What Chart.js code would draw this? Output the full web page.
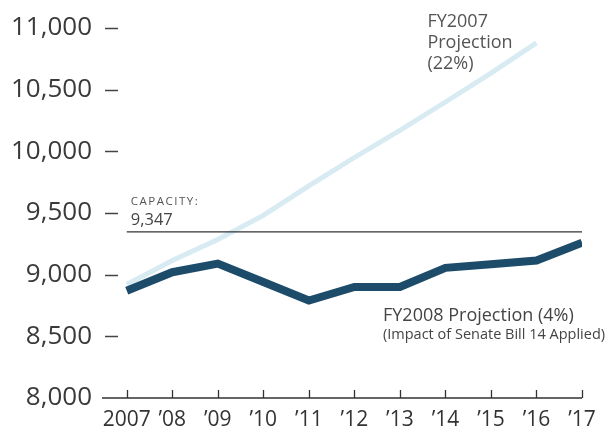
<!DOCTYPE html>
<html>
<head>
<meta charset="utf-8">
<script src="https://cdn.jsdelivr.net/npm/chart.js@4"></script>
<style>
  html, body { margin: 0; padding: 0; background: #fff; }
  #wrap { width: 611px; height: 426px; }
</style>
</head>
<body>
<div id="wrap"><canvas id="enrollChart" width="611" height="426"></canvas></div>
<script>
// enrollment projections vs. capacity
const years = [2007, 2008, 2009, 2010, 2011, 2012, 2013, 2014, 2015, 2016, 2017];
const yearLabels = ['2007', '\u201908', '\u201909', '\u201910', '\u201911', '\u201912', '\u201913', '\u201914', '\u201915', '\u201916', '\u201917'];
const fy2008 = [8870, 9020, 9090, 8940, 8790, 8900, 8900, 9055, 9085, 9115, 9260];
const fy2007 = [8920, 9115, 9285, 9480, 9720, 9950, 10170, 10400, 10635, 10880, null];
const capacity = 9347;
const yTicks = [8000, 8500, 9000, 9500, 10000, 10500, 11000];

const FONT = '"Open Sans", "DejaVu Sans", sans-serif';

const toPoints = arr => arr.map((v, i) => ({ x: years[i], y: v }));

// axis line, upward year ticks and the little dashes beside the y labels
const axisMarks = {
    id: 'axisMarks',
    beforeDatasetsDraw(chart) {
        const { ctx, chartArea, scales: { x, y } } = chart;
        ctx.save();
        ctx.strokeStyle = '#333';
        ctx.lineWidth = 1.3;
        ctx.beginPath();
        ctx.moveTo(chartArea.left - 2, chartArea.bottom);
        ctx.lineTo(x.getPixelForValue(years[years.length - 1]), chartArea.bottom);
        years.forEach(yr => {
            const px = Math.round(x.getPixelForValue(yr)) + 0.5;
            ctx.moveTo(px, chartArea.bottom);
            ctx.lineTo(px, chartArea.bottom - 8);
        });
        ctx.stroke();
        ctx.lineWidth = 1.5;
        ctx.strokeStyle = '#444';
        ctx.beginPath();
        yTicks.slice(1).forEach(v => {
            const py = Math.round(y.getPixelForValue(v)) + 0.5;
            ctx.moveTo(chartArea.left + 1, py);
            ctx.lineTo(chartArea.left + 14, py);
        });
        ctx.stroke();
        ctx.restore();
    }
};

// text notes next to the lines
const notes = {
    id: 'notes',
    afterDatasetsDraw(chart) {
        const { ctx, scales: { x, y } } = chart;
        ctx.save();
        ctx.textAlign = 'left';
        ctx.textBaseline = 'alphabetic';

        ctx.fillStyle = '#555';
        ctx.font = '18px ' + FONT;
        const fx = x.getPixelForValue(2014) - 18;
        ['FY2007', 'Projection', '(22%)'].forEach((t, i) => {
            ctx.fillText(t, fx, 27 + i * 21);
        });

        const cx = x.getPixelForValue(2007) + 4;
        const cy = y.getPixelForValue(capacity);
        ctx.font = '11.5px ' + FONT;
        ctx.letterSpacing = '1.5px';
        ctx.fillText('CAPACITY:', cx, cy - 27);
        ctx.letterSpacing = '0px';
        ctx.fillStyle = '#444';
        ctx.font = '16.5px ' + FONT;
        ctx.fillText('9,347', cx, cy - 7);

        ctx.fillStyle = '#444';
        ctx.font = '18px ' + FONT;
        ctx.fillText('FY2008 Projection (4%)', 383, 321);
        ctx.font = '14.5px ' + FONT;
        ctx.fillText('(Impact of Senate Bill 14 Applied)', 383, 339);
        ctx.restore();
    }
};

new Chart(document.getElementById('enrollChart'), {
    type: 'line',
    data: {
        datasets: [{
            label: 'FY2008 Projection (4%)',
            data: toPoints(fy2008),
            borderColor: '#1d4c6a',
            borderWidth: 8,
            borderJoinStyle: 'miter',
            pointRadius: 0,
            tension: 0
        }, {
            label: 'Capacity',
            data: [{ x: years[0], y: capacity }, { x: years[years.length - 1], y: capacity }],
            borderColor: '#333',
            borderWidth: 1.2,
            pointRadius: 0
        }, {
            label: 'FY2007 Projection (22%)',
            data: toPoints(fy2007),
            borderColor: '#d8ebf3',
            borderWidth: 5,
            pointRadius: 0,
            tension: 0
        }]
    },
    options: {
        responsive: false,
        animation: false,
        layout: { padding: { top: 28, right: 29, bottom: 0, left: 0 } },
        plugins: { legend: { display: false }, tooltip: { enabled: false } },
        scales: {
            x: {
                type: 'linear',
                min: years[0] - 0.5,
                max: years[years.length - 1],
                grid: { display: false },
                border: { display: false },
                afterBuildTicks: s => { s.ticks = years.map(v => ({ value: v })); },
                afterFit: s => { s.height = 28; },
                ticks: {
                    autoSkip: false,
                    maxRotation: 0,
                    padding: 1,
                    color: '#333',
                    font: { family: FONT, size: 21 },
                    callback: v => yearLabels[years.indexOf(v)]
                }
            },
            y: {
                min: yTicks[0],
                max: yTicks[yTicks.length - 1],
                grid: { display: false },
                border: { display: false },
                afterBuildTicks: s => { s.ticks = yTicks.map(v => ({ value: v })); },
                afterFit: s => { s.width = 104; },
                ticks: {
                    padding: 4,
                    color: '#3a3a3a',
                    font: { family: FONT, size: 26 },
                    callback: v => v.toLocaleString('en-US')
                }
            }
        }
    },
    plugins: [axisMarks, notes]
});
</script>
</body>
</html>
